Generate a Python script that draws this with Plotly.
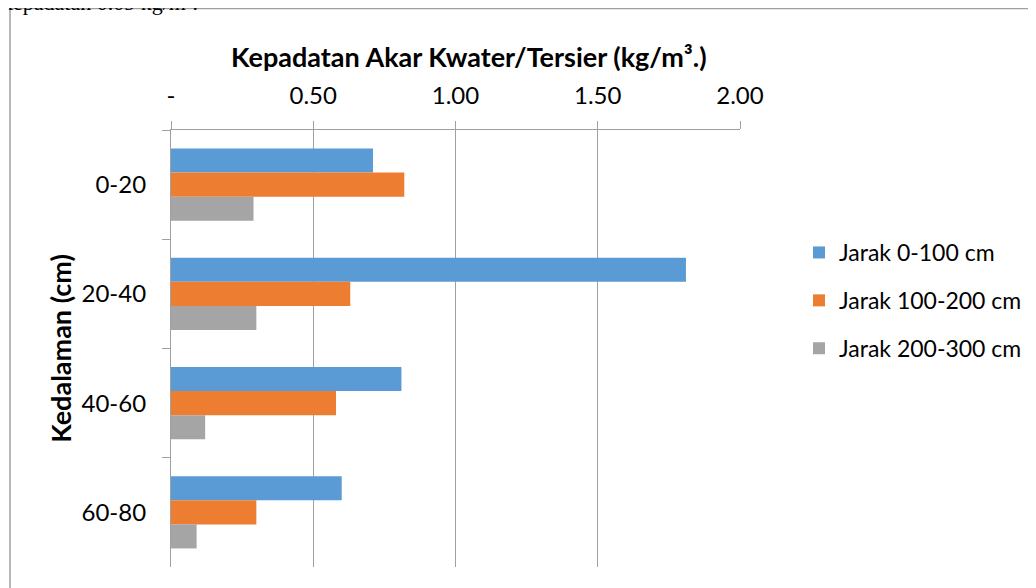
import plotly.graph_objects as go

categories = ["0-20", "20-40", "40-60", "60-80"]
series_names = ["Jarak 0-100 cm", "Jarak 100-200 cm", "Jarak 200-300 cm"]
jarak_0_100 = [0.71, 1.81, 0.81, 0.60]
jarak_100_200 = [0.82, 0.63, 0.58, 0.30]
jarak_200_300 = [0.29, 0.30, 0.12, 0.09]
colors = ["#5B9BD5", "#ED7D31", "#A5A5A5"]
x_tickvals = [0, 0.5, 1.0, 1.5, 2.0]
x_ticktext = ["-", "0.50", "1.00", "1.50", "2.00"]
x_title = "Kepadatan Akar Kwater/Tersier (kg/m³.)"
y_title = "Kedalaman (cm)"

FONT = "Lato, 'Open Sans', sans-serif"

# page body margin offsets the figure by 8px; plot area target (in window px):
# left 171, right 740, top 130, bottom 567
OFF = 8
L, R, T, B = 171 - OFF, 740 - OFF, 130 - OFF, 567 - OFF
W, H = 1036, 588
PW, PH = R - L, B - T


def px_x(x):
    return (x - OFF - L) / PW


def px_y(y):
    return (B - (y - OFF)) / PH


fig = go.Figure()
for i, (name, vals) in enumerate(zip(series_names, [jarak_0_100, jarak_100_200, jarak_200_300])):
    fig.add_trace(go.Bar(
        y=categories, x=vals, orientation="h", name=name,
        marker=dict(color=colors[i], line=dict(width=0)),
        legendgroup=f"g{i}",
    ))

fig.update_layout(
    width=W, height=H,
    margin=dict(l=L, r=W - R, t=T, b=H - B, autoexpand=False),
    paper_bgcolor="white", plot_bgcolor="white",
    barmode="group", bargap=0.34, bargroupgap=0,
    font=dict(family=FONT, size=24, color="#000000"),
    showlegend=True,
    legend=dict(
        x=px_x(799), y=px_y(231), xanchor="left", yanchor="top",
        font=dict(size=23, family=FONT, color="#000000"),
        tracegroupgap=15, bgcolor="rgba(0,0,0,0)",
        traceorder="grouped",
    ),
    xaxis=dict(
        side="top", range=[0, 2.0], tickvals=x_tickvals, ticktext=x_ticktext,
        showgrid=True, gridcolor="#A0A0A0", gridwidth=1.2,
        showline=True, linecolor="#A0A0A0", linewidth=1.2,
        ticks="outside", ticklen=8, tickcolor="#A0A0A0",
        tickfont=dict(size=24, family=FONT),
        ticklabelstandoff=7,
        zeroline=False,
    ),
    yaxis=dict(
        autorange="reversed", type="category",
        showline=True, linecolor="#A0A0A0", linewidth=1.2,
        ticks="outside", ticklen=8, tickcolor="#A0A0A0",
        tickson="boundaries",
        showgrid=False, zeroline=False,
        tickfont=dict(size=24, family=FONT),
        ticklabelstandoff=19,
        title=dict(text=f"<b>{y_title}</b>", font=dict(size=27, family=FONT), standoff=2),
    ),
)

# x-axis title (offset right of plot centre, as in the original)
fig.add_annotation(text=f"<b>{x_title}</b>", xref="paper", yref="paper",
                   x=px_x(469), y=px_y(57), xanchor="center", yanchor="middle",
                   showarrow=False, font=dict(size=27, family=FONT, color="#000000"))

# outer chart border
fig.add_shape(type="rect", xref="paper", yref="paper",
              x0=px_x(10), x1=px_x(1100), y0=px_y(620), y1=px_y(8.5),
              line=dict(color="#A0A0A0", width=1.5), fillcolor="rgba(0,0,0,0)", layer="below")

# document text cut off at top
fig.add_annotation(text="kepadatan 0.09 kg/m³.", xref="paper", yref="paper",
                   x=px_x(200), y=px_y(17),
                   xanchor="right", yanchor="bottom", showarrow=False,
                   font=dict(family="Liberation Serif, serif", size=22, color="#000000"))

fig.write_html("out.html")
